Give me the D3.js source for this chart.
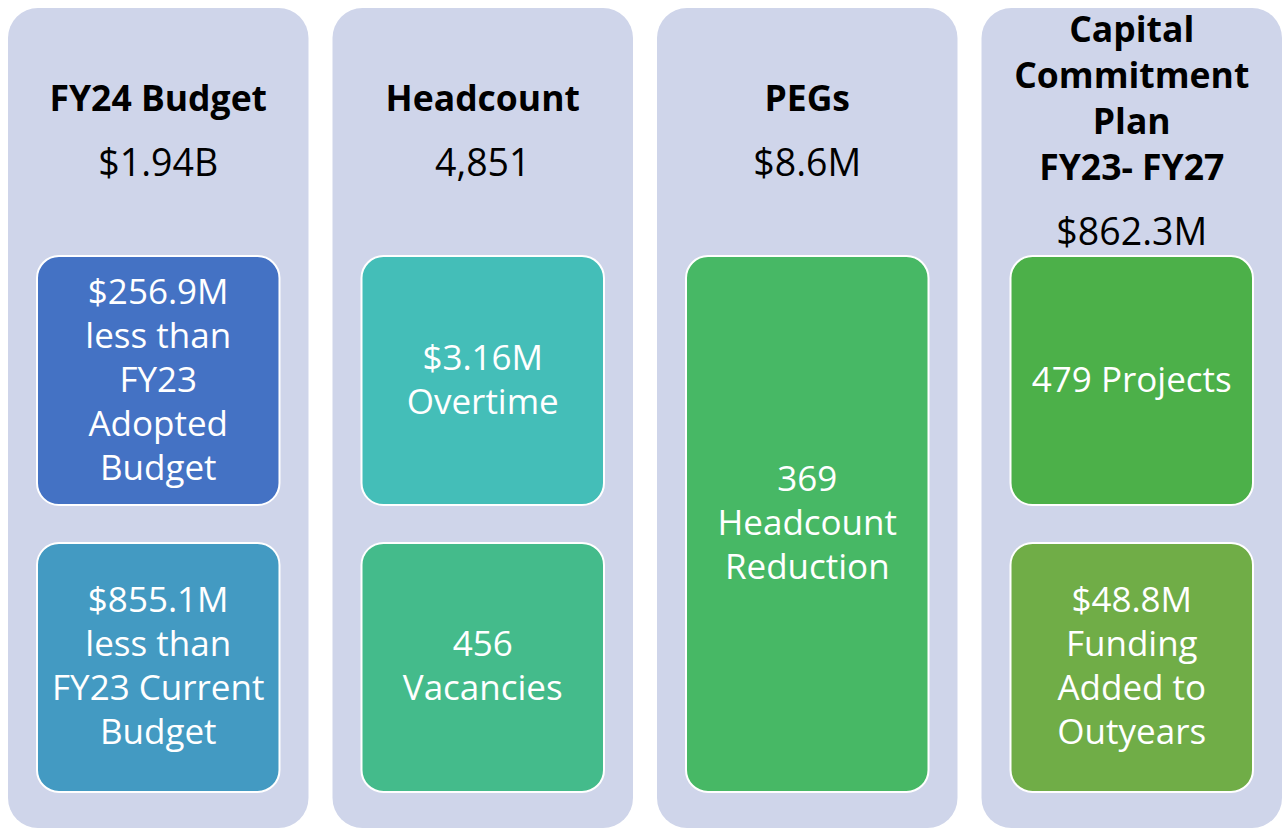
<!DOCTYPE html>
<html>
<head>
<meta charset="utf-8">
<script src="https://cdn.jsdelivr.net/npm/d3@7"></script>
<style>
  body { margin: 0; background: #fff; }
  svg text { font-family: "Open Sans", Lato, sans-serif; }
</style>
</head>
<body>
<svg id="chart" width="1283" height="829"></svg>
<script>
// column headers
var titleLines = [["FY24 Budget"], ["Headcount"], ["PEGs"], ["Capital", "Commitment", "Plan", "FY23- FY27"]];
var headlineValues = ["$1.94B", "4,851", "$8.6M", "$862.3M"];

// cards inside the columns
var cardColumn = [0, 0, 1, 1, 2, 3, 3];
var cardRow = [0, 1, 0, 1, 0, 0, 1];
var cardRowSpan = [1, 1, 1, 1, 2, 1, 1];
var cardLines = [
  ["$256.9M", "less than", "FY23", "Adopted", "Budget"],
  ["$855.1M", "less than", "FY23 Current", "Budget"],
  ["$3.16M", "Overtime"],
  ["456", "Vacancies"],
  ["369", "Headcount", "Reduction"],
  ["479 Projects"],
  ["$48.8M", "Funding", "Added to", "Outyears"]
];
var cardColors = ["#4472c4", "#439ac2", "#44beb8", "#44bb8b", "#47b865", "#4cb049", "#70ad47"];

var svg = d3.select("#chart");

var x = d3.scaleBand()
    .domain(d3.range(titleLines.length))
    .range([8, 1282])
    .paddingInner(0.074);

var row = d3.scaleBand()
    .domain([0, 1])
    .range([256, 792])
    .paddingInner(0.132);

var cardInset = 29;

// ****************** panels ***************************
svg.selectAll("rect.panel")
    .data(titleLines)
  .enter().append("rect")
    .attr("class", "panel")
    .attr("x", function(d, i) { return x(i); })
    .attr("y", 8)
    .attr("width", x.bandwidth())
    .attr("height", 820)
    .attr("rx", 30)
    .style("fill", "#cfd5ea");

// headers: title lines + value, centred as a block
var titleStep = 46, valueGap = 65, headerCenter = 143;

var header = svg.selectAll("g.header")
    .data(titleLines)
  .enter().append("g")
    .attr("class", "header")
    .attr("transform", function(d, i) {
      return "translate(" + (x(i) + x.bandwidth() / 2) + ",0)";
    });

header.each(function(lines, i) {
  var g = d3.select(this);
  var span = (lines.length - 1) * titleStep + valueGap;
  var first = headerCenter - span / 2;

  g.selectAll("text.title")
      .data(lines)
    .enter().append("text")
      .attr("class", "title")
      .attr("y", function(d, j) { return first + j * titleStep; })
      .attr("text-anchor", "middle")
      .style("font-size", "35.5px")
      .style("font-weight", "bold")
      .style("fill", "#000")
      .text(function(d) { return d; });

  g.append("text")
      .attr("y", first + span)
      .attr("text-anchor", "middle")
      .style("font-size", "37.5px")
      .style("fill", "#000")
      .text(headlineValues[i]);
});

// ****************** cards ***************************
var cardStep = 44;

var card = svg.selectAll("g.card")
    .data(cardLines)
  .enter().append("g")
    .attr("class", "card");

card.append("rect")
    .attr("x", function(d, i) { return x(cardColumn[i]) + cardInset; })
    .attr("y", function(d, i) { return row(cardRow[i]); })
    .attr("width", x.bandwidth() - 2 * cardInset)
    .attr("height", function(d, i) {
      var r = cardRow[i] + cardRowSpan[i] - 1;
      return row(r) + row.bandwidth() - row(cardRow[i]);
    })
    .attr("rx", 22)
    .style("fill", function(d, i) { return cardColors[i]; })
    .style("stroke", "#fff")
    .style("stroke-width", "2px");

card.each(function(lines, i) {
  var top = row(cardRow[i]);
  var bottom = row(cardRow[i] + cardRowSpan[i] - 1) + row.bandwidth();
  var cy = (top + bottom) / 2 + 11;
  var first = cy - (lines.length - 1) * cardStep / 2;

  d3.select(this).selectAll("text")
      .data(lines)
    .enter().append("text")
      .attr("x", x(cardColumn[i]) + x.bandwidth() / 2)
      .attr("y", function(d, j) { return first + j * cardStep; })
      .attr("text-anchor", "middle")
      .style("font-size", "35px")
      .style("fill", "#fff")
      .text(function(d) { return d; });
});
</script>
</body>
</html>
